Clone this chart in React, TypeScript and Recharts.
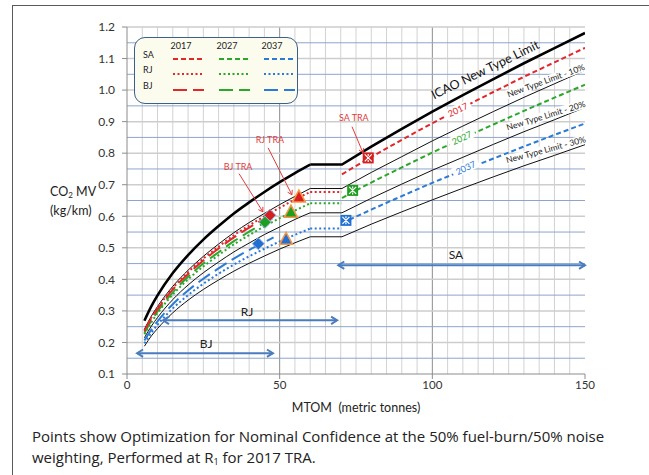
import React from "react";
import { ComposedChart, Line, Scatter, XAxis, YAxis, ReferenceLine, ReferenceDot } from "recharts";

const FONT = "Lato, 'Open Sans', sans-serif";

const RED = "#e0282a";
const GREEN = "#2ba82b";
const BLUE = "#2b7bd6";
const RANGE_BLUE = "#4a7dbf";
const NOTE_RED = "#e23b3b";

// MTOM (t) where the limit curves are sampled
const mtom = [5.7, 8, 10, 15, 20, 25, 30, 35, 40, 45, 50, 55, 60, 70.4, 80, 90, 100, 110, 120, 130, 140, 150];
const icaoLimit = [0.269, 0.315, 0.349, 0.42, 0.477, 0.526, 0.569, 0.609, 0.644, 0.677, 0.708, 0.737, 0.764, 0.764, 0.821, 0.877, 0.932, 0.984, 1.035, 1.085, 1.133, 1.181];
const limitMinus10 = [0.242, 0.284, 0.314, 0.378, 0.429, 0.473, 0.512, 0.548, 0.58, 0.609, 0.637, 0.663, 0.688, 0.688, 0.739, 0.789, 0.839, 0.886, 0.932, 0.977, 1.02, 1.063];
const limitMinus20 = [0.215, 0.252, 0.279, 0.336, 0.382, 0.421, 0.455, 0.487, 0.515, 0.542, 0.566, 0.59, 0.611, 0.611, 0.657, 0.702, 0.746, 0.787, 0.828, 0.868, 0.906, 0.945];
const limitMinus30 = [0.188, 0.221, 0.244, 0.294, 0.334, 0.368, 0.398, 0.426, 0.451, 0.474, 0.496, 0.516, 0.535, 0.535, 0.575, 0.614, 0.652, 0.689, 0.725, 0.76, 0.793, 0.827];

// single aisle goals
const mtomSA = [70.4, 80, 90, 100, 110, 120, 130, 140, 150];
const sa2017 = [0.733, 0.788, 0.842, 0.895, 0.945, 0.994, 1.042, 1.088, 1.134];
const sa2027 = [0.658, 0.707, 0.755, 0.802, 0.847, 0.891, 0.934, 0.976, 1.017];
const sa2037 = [0.578, 0.621, 0.664, 0.706, 0.745, 0.783, 0.821, 0.858, 0.894];

// regional jet goals
const mtomRJ = [5.7, 8, 10, 15, 20, 25, 30, 35, 40, 45, 50, 55, 60, 70.4];
const rj2017 = [0.238, 0.279, 0.309, 0.372, 0.423, 0.466, 0.504, 0.54, 0.571, 0.6, 0.627, 0.653, 0.677, 0.677];
const rj2027 = [0.226, 0.264, 0.293, 0.352, 0.4, 0.441, 0.477, 0.511, 0.54, 0.568, 0.594, 0.618, 0.641, 0.641];
const rj2037 = [0.197, 0.231, 0.256, 0.308, 0.35, 0.386, 0.418, 0.447, 0.473, 0.497, 0.52, 0.541, 0.561, 0.561];

// business jet goals
const mtomBJ = [5.7, 8, 10, 15, 20, 25, 30, 35, 40, 45, 48];
const bj2017 = [0.235, 0.276, 0.305, 0.368, 0.417, 0.46, 0.498, 0.533, 0.564, 0.592, 0.609];
const bj2027 = [0.23, 0.269, 0.298, 0.359, 0.408, 0.45, 0.486, 0.521, 0.551, 0.579, 0.595];
const bj2037 = [0.206, 0.241, 0.267, 0.321, 0.365, 0.402, 0.435, 0.466, 0.493, 0.518, 0.533];

// optimised TRA points (2017, 2027, 2037)
const traColors = ["#d61f1f", "#1f9f1f", "#2370d2"];
const saTraX = [79.0, 73.9, 71.7];
const saTraY = [0.785, 0.682, 0.587];
const rjTraX = [56.3, 53.7, 52.1];
const rjTraY = [0.661, 0.613, 0.527];
const bjTraX = [46.8, 45.2, 43.0];
const bjTraY = [0.603, 0.581, 0.513];

// MTOM range of each class
const rangeNames = ["SA", "RJ", "BJ"];
const rangeFrom = [69.2, 11.8, 3.3];
const rangeTo = [150, 68.8, 47.8];
const rangeLevel = [0.445, 0.27, 0.166];

const xTicks = [0, 50, 100, 150];
const yTicks = [0.1, 0.2, 0.3, 0.4, 0.5, 0.6, 0.7, 0.8, 0.9, 1.0, 1.1, 1.2];
const xGrid = Array.from({ length: 29 }, (_, i) => (i + 1) * 5).filter((v) => v !== 50 && v !== 100);
const yGridGrey = yTicks.slice(1);
const yGridBlue = yTicks.slice(0, -1).map((v) => Math.round((v + 0.05) * 100) / 100);

// index of the 60 t point: curved part before it, straight plateau/ramp after it
const KNEE = 12;

const rows = (xs: number[], ys: number[]) => xs.map((x, i) => ({ x, y: ys[i] }));
const curvePart = (xs: number[], ys: number[]) => rows(xs.slice(0, KNEE + 1), ys.slice(0, KNEE + 1));
const straightPart = (xs: number[], ys: number[]) => rows(xs.slice(KNEE), ys.slice(KNEE));
const pts = (xs: number[], ys: number[]) => xs.map((x, i) => ({ x, y: ys[i], color: traColors[i] }));

const curveTags = [
  { x: 117.3, y: 1.065, text: "ICAO New Type Limit", angle: -26, size: 12.5, color: "#111", w: 0, h: 0 },
  { x: 137.2, y: 1.03, text: "New Type Limit - 10%", angle: -20, size: 8.5, color: "#222", w: 84, h: 9 },
  { x: 137.2, y: 0.919, text: "New Type Limit - 20%", angle: -17, size: 8.5, color: "#222", w: 84, h: 9 },
  { x: 137.2, y: 0.811, text: "New Type Limit - 30%", angle: -15, size: 8.5, color: "#222", w: 84, h: 9 },
  { x: 108.3, y: 0.938, text: "2017", angle: -25, size: 9, color: RED, w: 28, h: 10 },
  { x: 109.6, y: 0.849, text: "2027", angle: -25, size: 9, color: GREEN, w: 28, h: 10 },
  { x: 110.9, y: 0.754, text: "2037", angle: -25, size: 9, color: BLUE, w: 28, h: 10 },
];

const rangeTags = [
  { x: 107.75, y: 0.478, text: "SA" },
  { x: 39.3, y: 0.297, text: "RJ" },
  { x: 25.9, y: 0.198, text: "BJ" },
];

const traNotes = [
  { text: "SA TRA", x: 74.3, y: 0.913, from: { x: 73.7, y: 0.884 }, to: { x: 77.3, y: 0.801 } },
  { text: "RJ TRA", x: 46.8, y: 0.843, from: { x: 46.2, y: 0.817 }, to: { x: 54.0, y: 0.668 } },
  { text: "BJ TRA", x: 36.4, y: 0.757, from: { x: 36.7, y: 0.735 }, to: { x: 44.5, y: 0.614 } },
];

const head = (x: number, y: number, a: number, len: number, spread: number) =>
  `M${x - len * Math.cos(a - spread)},${y - len * Math.sin(a - spread)}L${x},${y}L${x - len * Math.cos(a + spread)},${y - len * Math.sin(a + spread)}`;

const arrow = (color: string, width: number, both: boolean, len: number) => (p: any) => {
  const { x1, y1, x2, y2 } = p;
  const a = Math.atan2(y2 - y1, x2 - x1);
  return (
    <g fill="none" stroke={color} strokeWidth={width}>
      <line x1={x1} y1={y1} x2={x2} y2={y2} />
      <path d={head(x2, y2, a, len, 0.55)} />
      {both && <path d={head(x1, y1, a + Math.PI, len, 0.55)} />}
    </g>
  );
};

const Tag = ({ cx, cy, text, angle = 0, size, color, w = 0, h = 0 }: any) => (
  <g transform={`translate(${cx},${cy}) rotate(${angle})`}>
    {w > 0 && <rect x={-w / 2} y={-h / 2} width={w} height={h} fill="#fff" />}
    <text x={0} y={0} textAnchor="middle" dominantBaseline="central" fontSize={size} fill={color} fontFamily={FONT}>
      {text}
    </text>
  </g>
);

const SquareMark = ({ cx, cy, payload }: any) => (
  <g>
    <rect x={cx - 5.5} y={cy - 5.5} width={11} height={11} fill={payload.color} />
    <path
      d={`M${cx - 3.5},${cy - 3.5}L${cx + 3.5},${cy + 3.5}M${cx + 3.5},${cy - 3.5}L${cx - 3.5},${cy + 3.5}M${cx},${cy - 4}L${cx},${cy - 2}M${cx},${cy + 2}L${cx},${cy + 4}`}
      stroke="#fff"
      strokeWidth={1.2}
    />
  </g>
);

const TriangleMark = ({ cx, cy, payload }: any) => (
  <path
    d={`M${cx},${cy - 7}L${cx + 6.5},${cy + 5}L${cx - 6.5},${cy + 5}Z`}
    fill={payload.color}
    stroke="#f79646"
    strokeWidth={1.5}
  />
);

const DiamondMark = ({ cx, cy, payload }: any) => (
  <path
    d={`M${cx},${cy - 6}L${cx + 6},${cy}L${cx},${cy + 6}L${cx - 6},${cy}Z`}
    fill={payload.color}
    stroke="#8fb4dc"
    strokeWidth={1}
  />
);

const curved = { dataKey: "y", dot: false, isAnimationActive: false, type: "monotone" as const };
const straight = { dataKey: "y", dot: false, isAnimationActive: false, type: "linear" as const };
const SA_DASH = "5 3";
const RJ_DASH = "2 2.5";
const BJ_DASH = "14 6";

const limitStyles = [
  { ys: limitMinus30, stroke: "#111", width: 1 },
  { ys: limitMinus20, stroke: "#111", width: 1 },
  { ys: limitMinus10, stroke: "#111", width: 1 },
  { ys: icaoLimit, stroke: "#000", width: 2.6 },
];
const rjStyles = [
  { ys: rj2037, stroke: BLUE },
  { ys: rj2027, stroke: GREEN },
  { ys: rj2017, stroke: RED },
];

function Legend() {
  const cols = [
    { year: "2017", color: RED, x: 38 },
    { year: "2027", color: GREEN, x: 84 },
    { year: "2037", color: BLUE, x: 129 },
  ];
  const styles = [
    { name: "SA", dash: SA_DASH, y: 21 },
    { name: "RJ", dash: RJ_DASH, y: 36 },
    { name: "BJ", dash: BJ_DASH, y: 52 },
  ];
  return (
    <div
      style={{
        position: "absolute",
        left: 134,
        top: 37,
        width: 164,
        height: 67,
        boxSizing: "border-box",
        border: "1.5px solid #3d5f8f",
        borderRadius: 11,
        background: "#fcfcee",
      }}
    >
      <svg width={161} height={64} style={{ position: "absolute", left: 0, top: 0 }}>
        {cols.map((c) => (
          <text key={c.year} x={c.x + 8} y={11} textAnchor="middle" fontSize={9} fontFamily={FONT} fill="#222">
            {c.year}
          </text>
        ))}
        {styles.map((s) => (
          <g key={s.name}>
            <text x={8} y={s.y - 1} fontSize={9} fontFamily={FONT} fill="#222">
              {s.name}
            </text>
            {cols.map((c) => (
              <line key={c.year} x1={c.x} x2={c.x + 31} y1={s.y} y2={s.y} stroke={c.color} strokeWidth={2} strokeDasharray={s.dash} />
            ))}
          </g>
        ))}
      </svg>
    </div>
  );
}

export default function App() {
  return (
    <div style={{ position: "absolute", left: 0, top: 0, width: 649, height: 475, background: "#fff", overflow: "hidden", fontFamily: FONT }}>
      <div style={{ position: "absolute", left: 12, top: 5, width: 700, height: 500, borderTop: "1.5px solid #5a5a5a", borderLeft: "1.5px solid #5a5a5a" }} />
      <ComposedChart width={649} height={475} margin={{ top: 27, right: 64, bottom: 71, left: 67 }} style={{ position: "absolute", left: 0, top: 0 }}>
        <XAxis
          type="number"
          dataKey="x"
          domain={[0, 150]}
          ticks={xTicks}
          allowDataOverflow
          height={30}
          tick={{ fontSize: 11.5, fill: "#333", fontFamily: FONT }}
          tickSize={5}
          tickMargin={2}
          axisLine={{ stroke: "#8c8c8c" }}
          tickLine={{ stroke: "#8c8c8c" }}
        />
        <YAxis
          type="number"
          dataKey="y"
          domain={[0.1, 1.2]}
          ticks={yTicks}
          allowDataOverflow
          width={60}
          tickFormatter={(v: number) => v.toFixed(1)}
          tick={{ fontSize: 12, fill: "#333", fontFamily: FONT }}
          tickSize={5}
          tickMargin={7}
          axisLine={{ stroke: "#8c8c8c" }}
          tickLine={{ stroke: "#8c8c8c" }}
        />

        {xGrid.map((v) => (
          <ReferenceLine key={`vx${v}`} x={v} stroke={v === 150 ? "#9a9a9a" : "#d2d2d2"} strokeWidth={1} zIndex={-100} />
        ))}
        {[50, 100].map((v) => (
          <ReferenceLine key={`vm${v}`} x={v} stroke="#8c8c8c" strokeWidth={1} zIndex={-100} />
        ))}
        {yGridGrey.map((v) => (
          <ReferenceLine key={`hg${v}`} y={v} stroke="#cdcdcd" strokeWidth={1.5} zIndex={-100} />
        ))}
        {yGridBlue.map((v) => (
          <ReferenceLine key={`hb${v}`} y={v} stroke="#8ea5cb" strokeWidth={1} zIndex={-100} />
        ))}

        {limitStyles.map((s, i) => (
          <Line key={`lc${i}`} {...curved} data={curvePart(mtom, s.ys)} stroke={s.stroke} strokeWidth={s.width} />
        ))}
        {limitStyles.map((s, i) => (
          <Line key={`ls${i}`} {...straight} data={straightPart(mtom, s.ys)} stroke={s.stroke} strokeWidth={s.width} />
        ))}

        <Line {...curved} data={rows(mtomBJ, bj2037)} stroke={BLUE} strokeWidth={2} strokeDasharray={BJ_DASH} />
        <Line {...curved} data={rows(mtomBJ, bj2027)} stroke={GREEN} strokeWidth={2} strokeDasharray={BJ_DASH} />
        <Line {...curved} data={rows(mtomBJ, bj2017)} stroke={RED} strokeWidth={2} strokeDasharray={BJ_DASH} />
        {rjStyles.map((s, i) => (
          <Line key={`rc${i}`} {...curved} data={curvePart(mtomRJ, s.ys)} stroke={s.stroke} strokeWidth={2} strokeDasharray={RJ_DASH} />
        ))}
        {rjStyles.map((s, i) => (
          <Line key={`rs${i}`} {...straight} data={straightPart(mtomRJ, s.ys)} stroke={s.stroke} strokeWidth={2} strokeDasharray={RJ_DASH} />
        ))}

        <Line {...curved} data={rows(mtomSA, sa2037)} stroke={BLUE} strokeWidth={2} strokeDasharray={SA_DASH} />
        <Line {...curved} data={rows(mtomSA, sa2027)} stroke={GREEN} strokeWidth={2} strokeDasharray={SA_DASH} />
        <Line {...curved} data={rows(mtomSA, sa2017)} stroke={RED} strokeWidth={2} strokeDasharray={SA_DASH} />

        {curveTags.map((t) => (
          <ReferenceDot key={t.text} x={t.x} y={t.y} zIndex={700} shape={(p: any) => <Tag cx={p.cx} cy={p.cy} {...t} />} />
        ))}

        {rangeNames.map((n, i) => (
          <ReferenceLine
            key={`r${n}`}
            segment={[
              { x: rangeFrom[i], y: rangeLevel[i] },
              { x: rangeTo[i], y: rangeLevel[i] },
            ]}
            zIndex={650}
            shape={arrow(RANGE_BLUE, 2, true, 7)}
          />
        ))}
        {rangeTags.map((t) => (
          <ReferenceDot key={`rt${t.text}`} x={t.x} y={t.y} zIndex={700} shape={(p: any) => <Tag cx={p.cx} cy={p.cy} text={t.text} size={12} color="#222" />} />
        ))}

        {traNotes.map((n) => (
          <ReferenceLine key={`a${n.text}`} segment={[n.from, n.to]} zIndex={650} shape={arrow(NOTE_RED, 1, false, 5)} />
        ))}
        {traNotes.map((n) => (
          <ReferenceDot key={`n${n.text}`} x={n.x} y={n.y} zIndex={700} shape={(p: any) => <Tag cx={p.cx} cy={p.cy} text={n.text} size={9} color={NOTE_RED} />} />
        ))}

        <Scatter data={pts(bjTraX, bjTraY)} dataKey="y" isAnimationActive={false} shape={(p: any) => <DiamondMark {...p} />} />
        <Scatter data={pts(rjTraX, rjTraY)} dataKey="y" isAnimationActive={false} shape={(p: any) => <TriangleMark {...p} />} />
        <Scatter data={pts(saTraX, saTraY)} dataKey="y" isAnimationActive={false} shape={(p: any) => <SquareMark {...p} />} />
      </ComposedChart>

      <Legend />

      <div style={{ position: "absolute", left: 50, top: 184, fontSize: 12.5, color: "#222", lineHeight: "16px" }}>
        <div>
          CO<sub style={{ fontSize: 8, verticalAlign: "-2px" }}>2</sub> MV
        </div>
        <div>(kg/km)</div>
      </div>
      <div style={{ position: "absolute", left: 256, width: 200, top: 400, textAlign: "center", fontSize: 12.5, color: "#222", whiteSpace: "pre" }}>
        {"MTOM  (metric tonnes)"}
      </div>
      <div style={{ position: "absolute", left: 32, top: 426, fontSize: 15, color: "#222", lineHeight: "21px", fontFamily: "'Open Sans', sans-serif" }}>
        <div>Points show Optimization for Nominal Confidence at the 50% fuel-burn/50% noise</div>
        <div>
          weighting, Performed at R<sub style={{ fontSize: 9, verticalAlign: "-2px" }}>1</sub> for 2017 TRA.
        </div>
      </div>
    </div>
  );
}
